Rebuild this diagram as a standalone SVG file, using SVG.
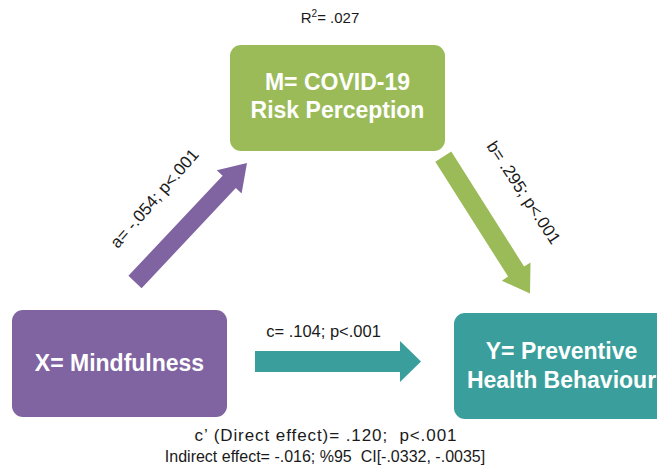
<svg xmlns="http://www.w3.org/2000/svg" width="657" height="467" viewBox="0 0 657 467">
<style>
.node-label{font-family:"Liberation Sans",Arial,sans-serif;font-weight:bold;font-size:23px;fill:#ffffff;text-anchor:middle}
.lbl{font-family:"Liberation Sans",Arial,sans-serif;font-size:16px;fill:#1a1a1a;text-anchor:middle;white-space:pre}
.rot{font-size:17px}
</style>
<rect width="657" height="467" fill="#ffffff"/>
<g id="connectors">
<polygon id="arrow-a" fill="#8064A2" points="128.4,275.8 222.6,175.7 216.8,170.2 247,163 241.6,193.6 235.8,188.1 141.6,288.2"/>
<polygon id="arrow-b" fill="#9BBB59" points="435.3,161.8 508.1,276.6 501.8,280.7 530,293.5 530.5,262.5 524.1,266.5 451.3,151.6"/>
<polygon id="arrow-c" fill="#3A9F9C" points="255,351 400,351 400,341 421,361.5 400,382 400,372 255,372"/>
<text class="lbl rot" transform="translate(155,199) rotate(-49)" x="0" y="5">a= -.054; p&lt;.001</text>
<text class="lbl rot" transform="translate(523,193) rotate(56.6)" x="0" y="5">b= .295; p&lt;.001</text>
<text class="lbl" x="323.5" y="337" style="font-size:16.5px">c= .104; p&lt;.001</text>
</g>
<g id="node-m">
<rect x="230" y="45" width="215" height="106" rx="11" fill="#9BBB59"/>
<text class="node-label" x="337.5" y="90">M= COVID-19</text>
<text class="node-label" x="337.5" y="118">Risk Perception</text>
</g>
<g id="node-x">
<rect x="12" y="310" width="215" height="107" rx="11" fill="#8064A2"/>
<text class="node-label" x="119.5" y="371">X= Mindfulness</text>
</g>
<g id="node-y">
<rect x="454" y="313" width="215" height="106" rx="11" fill="#3A9F9C"/>
<text class="node-label" x="561.5" y="359">Y= Preventive</text>
<text class="node-label" x="561.5" y="388">Health Behaviour</text>
</g>
<g id="notes">
<text class="lbl" x="330" y="23" style="font-size:15px">R<tspan font-size="10" dy="-6">2</tspan><tspan dy="6">= .027</tspan></text>
<text class="lbl" x="325.5" y="441" style="font-size:17px" xml:space="preserve" textLength="262" lengthAdjust="spacing">c’ (Direct effect)= .120;  p&lt;.001</text>
<text class="lbl" x="325" y="462" xml:space="preserve">Indirect effect= -.016; %95  CI[-.0332, -.0035]</text>
</g>
</svg>
